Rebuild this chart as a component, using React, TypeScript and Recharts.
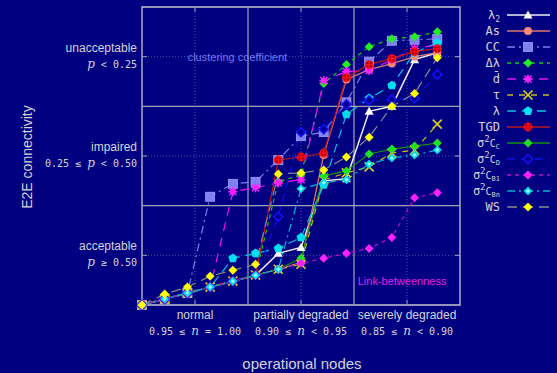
import { Legend, Line, LineChart, ReferenceArea, ReferenceDot, ReferenceLine, XAxis, YAxis } from "recharts";

// x = step index along the operational-nodes axis, y = connectivity band (0..3)
const X_IDX = [0, 1, 2, 3, 4, 5, 6, 7, 8, 9, 10, 11, 12, 13];

const LAMBDA2 = [0, 0.06, 0.12, 0.18, 0.24, 0.3, 0.52, 0.58, 1.25, 1.27, 1.95, 2.0, 2.47, 2.54];
const AS = [0, 0.06, 0.12, 0.18, 0.24, 0.3, 0.36, 0.43, 1.51, 2.27, 2.37, 2.43, 2.5, 2.54];
const CC = [0, 0.06, 0.12, 1.09, 1.22, 1.24, 1.46, 1.7, 1.74, 2.04, 2.45, 2.66, 2.67, 2.68];
const DLAMBDA = [0, 0.06, 0.12, 0.18, 0.24, 0.3, 1.24, 1.31, 2.23, 2.42, 2.6, 2.68, 2.7, 2.75];
const DBAR = [0, 0.06, 0.12, 0.18, 1.14, 1.18, 1.23, 1.26, 2.26, 2.35, 2.36, 2.47, 2.58, 2.62];
const TAU = [0, 0.06, 0.12, 0.18, 0.24, 0.3, 0.36, 0.41, 1.26, 1.33, 1.39, 1.53, 1.56, 1.82];
const LAMBDA = [0, 0.06, 0.12, 0.18, 0.47, 0.52, 0.57, 0.68, 1.21, 1.92, 2.08, 2.21, 2.54, 2.64];
const TGD = [0, 0.06, 0.12, 0.18, 0.24, 0.3, 1.46, 1.49, 1.53, 2.29, 2.42, 2.48, 2.55, 2.58];
const S_CC = [0, 0.06, 0.12, 0.18, 0.24, 0.3, 0.36, 0.47, 1.3, 1.35, 1.52, 1.57, 1.6, 1.63];
const S_CD = [0, 0.06, 0.12, 0.18, 0.24, 0.3, 0.89, 1.74, 1.77, 2.02, 2.06, 2.07, 2.08, 2.32];
const S_CB1 = [0, 0.06, 0.12, 0.18, 0.24, 0.3, 0.36, 0.42, 0.47, 0.52, 0.57, 0.68, 1.08, 1.13];
const S_CBN = [0, 0.06, 0.12, 0.18, 0.24, 0.3, 0.36, 1.17, 1.23, 1.26, 1.42, 1.48, 1.51, 1.56];
const WS = [0, 0.11, 0.18, 0.29, 0.35, 0.41, 1.32, 1.33, 1.36, 1.49, 1.69, 2.0, 2.13, 2.49];

const X_TICKS = [7 / 3, 7, 35 / 3];
const X_NAMES = ["normal", "partially degraded", "severely degraded"];
const X_PRE = ["0.95 ≤ ", "0.90 ≤ ", "0.85 ≤ "];
const X_POST = [" = 1.00", " < 0.95", " < 0.90"];

const Y_TICKS = [0.5, 1.5, 2.5];
const Y_NAMES = ["acceptable", "impaired", "unacceptable"];
const Y_PRE = ["", "0.25 ≤ ", ""];
const Y_POST = [" ≥ 0.50", " < 0.50", " < 0.25"];

const BG = "#000080";
const TXT = "#d4d4d8";
const SANS = "'Liberation Sans', Arial, sans-serif";
const MONO = "'DejaVu Sans Mono', monospace";
const SERIF = "'DejaVu Serif', serif";

type Mark = "tri" | "circle" | "square" | "diamond" | "star" | "x" | "pent" | "oplus" | "hdiamond" | "cdiamond";

const SERIES: { key: string; data: number[]; color: string; line: string; dash?: string; mark: Mark; width?: number }[] = [
  { key: "l2", data: LAMBDA2, color: "#ffffff", line: "#f0f0f0", mark: "tri", width: 1.5 },
  { key: "as", data: AS, color: "#f88878", line: "#e07870", mark: "circle" },
  { key: "cc", data: CC, color: "#8080f0", line: "#8080f0", dash: "8 4 2 4", mark: "square" },
  { key: "dl", data: DLAMBDA, color: "#20f020", line: "#10d010", dash: "4 4", mark: "diamond" },
  { key: "db", data: DBAR, color: "#ff20ff", line: "#f010f0", dash: "9 7", mark: "star" },
  { key: "tau", data: TAU, color: "#d8d020", line: "#c8c010", dash: "6 6", mark: "x" },
  { key: "lam", data: LAMBDA, color: "#00e0f0", line: "#00c8e0", dash: "9 6", mark: "pent" },
  { key: "tgd", data: TGD, color: "#ff1010", line: "#c01818", mark: "oplus" },
  { key: "scc", data: S_CC, color: "#20e020", line: "#109010", mark: "diamond" },
  { key: "scd", data: S_CD, color: "#1010ff", line: "#1010e0", dash: "8 6", mark: "hdiamond" },
  { key: "scb1", data: S_CB1, color: "#ff20ff", line: "#c010c0", dash: "4 4", mark: "diamond" },
  { key: "scbn", data: S_CBN, color: "#00d8e8", line: "#00b8d0", dash: "8 4 2 4", mark: "cdiamond" },
  { key: "ws", data: WS, color: "#ffff00", line: "#8a8a8a", dash: "10 6", mark: "diamond" },
];

const rows = X_IDX.map((x, i) => {
  const r: Record<string, number> = { x };
  for (const s of SERIES) r[s.key] = s.data[i];
  return r;
});

function renderMark(kind: Mark, color: string, cx: number, cy: number, key: string | number) {
  const d = 4.5;
  switch (kind) {
    case "tri":
      return <polygon key={key} points={`${cx},${cy - 4.5} ${cx - 4.5},${cy + 3.5} ${cx + 4.5},${cy + 3.5}`} fill={color} />;
    case "circle":
      return <circle key={key} cx={cx} cy={cy} r={4} fill={color} />;
    case "square":
      return <rect key={key} x={cx - 4.5} y={cy - 4.5} width={9} height={9} fill={color} stroke="#a0a0ff" strokeWidth={0.8} />;
    case "diamond":
      return (
        <polygon key={key} points={`${cx},${cy - d} ${cx + d},${cy} ${cx},${cy + d} ${cx - d},${cy}`} fill={color} />
      );
    case "hdiamond":
      return (
        <polygon
          key={key}
          points={`${cx},${cy - d} ${cx + d},${cy} ${cx},${cy + d} ${cx - d},${cy}`}
          fill={BG}
          stroke={color}
          strokeWidth={1.6}
        />
      );
    case "cdiamond":
      return (
        <g key={key}>
          <polygon points={`${cx},${cy - d} ${cx + d},${cy} ${cx},${cy + d} ${cx - d},${cy}`} fill={color} />
          <polygon points={`${cx},${cy - 2} ${cx + 2},${cy} ${cx},${cy + 2} ${cx - 2},${cy}`} fill="#a0ffff" />
        </g>
      );
    case "star":
      return (
        <g key={key} stroke={color} strokeWidth={1.5}>
          <line x1={cx - 4.5} y1={cy} x2={cx + 4.5} y2={cy} />
          <line x1={cx} y1={cy - 4.5} x2={cx} y2={cy + 4.5} />
          <line x1={cx - 3.5} y1={cy - 3.5} x2={cx + 3.5} y2={cy + 3.5} />
          <line x1={cx - 3.5} y1={cy + 3.5} x2={cx + 3.5} y2={cy - 3.5} />
          <circle cx={cx} cy={cy} r={2} fill={color} />
        </g>
      );
    case "x":
      return (
        <g key={key} stroke={color} strokeWidth={1.7}>
          <line x1={cx - 4.5} y1={cy - 4.5} x2={cx + 4.5} y2={cy + 4.5} />
          <line x1={cx - 4.5} y1={cy + 4.5} x2={cx + 4.5} y2={cy - 4.5} />
        </g>
      );
    case "pent": {
      const pts = [0, 1, 2, 3, 4]
        .map((k) => {
          const a = -Math.PI / 2 + (k * 2 * Math.PI) / 5;
          return `${cx + 4.8 * Math.cos(a)},${cy + 4.8 * Math.sin(a)}`;
        })
        .join(" ");
      return <polygon key={key} points={pts} fill={color} />;
    }
    case "oplus":
      return (
        <g key={key} stroke={color} strokeWidth={1.2}>
          <circle cx={cx} cy={cy} r={3.8} fill="#b00010" />
          <line x1={cx - 4.5} y1={cy} x2={cx + 4.5} y2={cy} />
          <line x1={cx} y1={cy - 4.5} x2={cx} y2={cy + 4.5} />
        </g>
      );
  }
}

function LegendLabel({ k }: { k: string }) {
  switch (k) {
    case "l2":
      return (
        <>
          λ<tspan dy={3} fontSize={8}>2</tspan>
        </>
      );
    case "as":
      return <>As</>;
    case "cc":
      return <>CC</>;
    case "dl":
      return <>Δλ</>;
    case "db":
      return <>{"d\u0304"}</>;
    case "tau":
      return <>τ</>;
    case "lam":
      return <>λ</>;
    case "tgd":
      return <>TGD</>;
    case "ws":
      return <>WS</>;
    default: {
      const s = k === "scc" ? "C" : k === "scd" ? "D" : k === "scb1" ? "B1" : "Bn";
      return (
        <>
          σ<tspan dy={-5} fontSize={9}>2</tspan>
          <tspan dy={5} fontSize={10}>C</tspan>
          <tspan dy={2} fontSize={7}>{s}</tspan>
        </>
      );
    }
  }
}

function LegendBox() {
  return (
    <svg width={97} height={220} style={{ display: "block" }}>
      {SERIES.map((s, i) => {
        const y = 15 + i * 16;
        return (
          <g key={s.key}>
            <text x={40} y={y + 4} textAnchor="end" fill={TXT} fontSize={12} fontFamily={MONO}>
              <LegendLabel k={s.key} />
            </text>
            <line x1={47} y1={y} x2={90} y2={y} stroke={s.line} strokeWidth={s.width ?? 1.3} strokeDasharray={s.dash} />
            {renderMark(s.mark, s.color, 68, y, "m")}
          </g>
        );
      })}
    </svg>
  );
}

function XTick({ x, payload }: any) {
  const i = X_TICKS.findIndex((t) => Math.abs(t - payload.value) < 1e-6);
  return (
    <g>
      <text x={x} y={319} textAnchor="middle" fill={TXT} fontSize={12} fontFamily={SANS}>
        {X_NAMES[i]}
      </text>
      <text x={x} y={335} textAnchor="middle" fill={TXT} fontSize={10} fontFamily={MONO} style={{ whiteSpace: "pre" }}>
        {X_PRE[i]}
        <tspan fontFamily={SERIF} fontStyle="italic" fontSize={12}>
          n
        </tspan>
        {X_POST[i]}
      </text>
    </g>
  );
}

function YTick({ y, payload }: any) {
  const i = Y_TICKS.indexOf(payload.value);
  return (
    <g>
      <text x={137} y={y - 5} textAnchor="end" fill={TXT} fontSize={12} fontFamily={SANS}>
        {Y_NAMES[i]}
      </text>
      <text x={137} y={y + 11} textAnchor="end" fill={TXT} fontSize={10} fontFamily={MONO} style={{ whiteSpace: "pre" }}>
        {Y_PRE[i]}
        <tspan fontFamily={SERIF} fontStyle="italic" fontSize={12}>
          p
        </tspan>
        {Y_POST[i]}
      </text>
    </g>
  );
}

const GRID = "#a4a4b8";
const DOT = "#4850a0";

export default function App() {
  return (
    <div style={{ position: "absolute", left: 0, top: 0, width: 557, height: 373, background: BG }}>
      <LineChart width={557} height={373} data={rows} margin={{ top: 7, right: 0, bottom: 0, left: 0 }}>
        <XAxis
          dataKey="x"
          type="number"
          domain={[0, 14]}
          ticks={X_TICKS}
          interval={0}
          tick={XTick}
          axisLine={false}
          tickLine={false}
          height={68}
          label={{
            content: () => (
              <text x={302} y={369} textAnchor="middle" fill={TXT} fontSize={15} fontFamily={SANS}>
                operational nodes
              </text>
            ),
          }}
        />
        <YAxis
          type="number"
          domain={[0, 3]}
          ticks={Y_TICKS}
          interval={0}
          tick={YTick}
          axisLine={false}
          tickLine={false}
          width={142}
          label={{
            content: () => (
              <text
                x={27}
                y={157}
                transform="rotate(-90 27 157)"
                textAnchor="middle"
                dominantBaseline="central"
                fill={TXT}
                fontSize={14}
                fontFamily={SANS}
              >
                E2E connectivity
              </text>
            ),
          }}
        />
        {X_TICKS.map((t) => (
          <ReferenceLine key={`vx${t}`} x={t} stroke={DOT} strokeDasharray="1 2" />
        ))}
        {Y_TICKS.map((t) => (
          <ReferenceLine key={`hy${t}`} y={t} stroke={DOT} strokeDasharray="1 2" />
        ))}
        {X_TICKS.map((t) => (
          <ReferenceLine key={`tb${t}`} segment={[{ x: t, y: 0 }, { x: t, y: 0.05 }]} stroke={GRID} />
        ))}
        {X_TICKS.map((t) => (
          <ReferenceLine key={`tt${t}`} segment={[{ x: t, y: 3 }, { x: t, y: 2.95 }]} stroke={GRID} />
        ))}
        {Y_TICKS.map((t) => (
          <ReferenceLine key={`tl${t}`} segment={[{ x: 0, y: t }, { x: 0.22, y: t }]} stroke={GRID} />
        ))}
        {Y_TICKS.map((t) => (
          <ReferenceLine key={`tr${t}`} segment={[{ x: 14, y: t }, { x: 13.78, y: t }]} stroke={GRID} />
        ))}
        <ReferenceLine x={14 / 3} stroke={GRID} strokeWidth={1.2} />
        <ReferenceLine x={28 / 3} stroke={GRID} strokeWidth={1.2} />
        <ReferenceLine y={1} stroke={GRID} strokeWidth={1.2} />
        <ReferenceLine y={2} stroke={GRID} strokeWidth={1.2} />
        <ReferenceArea x1={0} x2={14} y1={0} y2={3} fill="none" stroke="#c4c4d0" strokeWidth={1.3} />
        <ReferenceDot
          x={4.2}
          y={2.5}
          r={0}
          stroke="none"
          label={{ value: "clustering coefficient", position: "center", fill: "#7878f0", fontSize: 11, fontFamily: SANS }}
        />
        <ReferenceDot
          x={11.45}
          y={0.24}
          r={0}
          stroke="none"
          label={{ value: "Link-betweenness", position: "center", fill: "#e020e0", fontSize: 11, fontFamily: SANS }}
        />
        {SERIES.map((s) => (
          <Line
            key={s.key}
            dataKey={s.key}
            type="linear"
            stroke={s.line}
            strokeWidth={s.width ?? 1.2}
            strokeDasharray={s.dash}
            dot={(p: any) => renderMark(s.mark, s.color, p.cx, p.cy, `${s.key}-${p.index}`)}
            activeDot={false}
            isAnimationActive={false}
          />
        ))}
        <Legend
          layout="vertical"
          align="right"
          verticalAlign="top"
          content={() => <LegendBox />}
          wrapperStyle={{ left: 460, top: 0, width: 97 }}
        />
      </LineChart>
    </div>
  );
}
